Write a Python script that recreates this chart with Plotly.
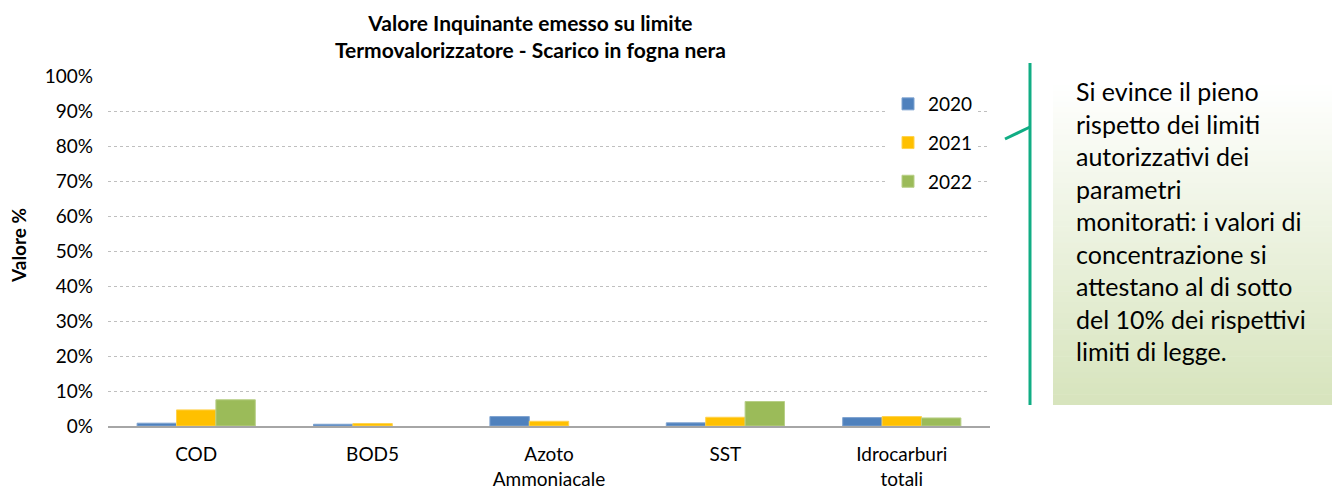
import plotly.graph_objects as go

categories = ["COD", "BOD5", "Azoto<br>Ammoniacale", "SST", "Idrocarburi<br>totali"]
years = ["2020", "2021", "2022"]
v2020 = [0.008, 0.005, 0.027, 0.009, 0.024]
v2021 = [0.046, 0.007, 0.0135, 0.025, 0.027]
v2022 = [0.075, 0.0, 0.0, 0.070, 0.023]
colors = ["#4f81bd", "#ffc000", "#9bbb59"]
outlines = ["#7ea3d0", "#ffd24d", "#b8cf87"]
title_lines = ["Valore Inquinante emesso su limite", "Termovalorizzatore - Scarico in fogna nera"]
callout_text = ["Si evince il pieno", "rispetto dei limiti", "autorizzativi dei", "parametri",
                "monitorati: i valori di", "concentrazione si", "attestano al di sotto",
                "del 10% dei rispettivi", "limiti di legge."]

FONT = "Lato, Carlito, Calibri, sans-serif"
W, H = 1338, 489
PL, PR, PT, PB = 108, 990, 76, 426  # plot area in pixels


def px(xp):
    return (xp - PL) / (PR - PL)


def py(yp):
    return (PB - yp) / (PB - PT)


fig = go.Figure()
for i, (yr, vals) in enumerate(zip(years, [v2020, v2021, v2022])):
    fig.add_trace(go.Bar(
        x=categories, y=vals, name=yr, legendgroup=yr,
        marker=dict(color=colors[i],
                    line=dict(color=outlines[i], width=[1 if v > 0 else 0 for v in vals])),
    ))

shapes = []
# callout gradient box
ytop, ybot = 80, 405
n = 60
c_top = (255, 255, 255)
c_bot = (215, 228, 189)
for k in range(n):
    t = k / (n - 1)
    r = round(c_top[0] + (c_bot[0] - c_top[0]) * t)
    g = round(c_top[1] + (c_bot[1] - c_top[1]) * t)
    b = round(c_top[2] + (c_bot[2] - c_top[2]) * t)
    ya = ytop + (ybot - ytop) * k / n
    yb = min(ybot, ytop + (ybot - ytop) * (k + 1) / n + 0.6)
    shapes.append(dict(type="rect", xref="paper", yref="paper", layer="below",
                       x0=px(1053), x1=px(1332), y0=py(yb), y1=py(ya),
                       line=dict(width=0), fillcolor=f"rgb({r},{g},{b})"))
# bracket lines
shapes.append(dict(type="line", xref="paper", yref="paper",
                   x0=px(1030), x1=px(1030), y0=py(63), y1=py(405),
                   line=dict(color="#10ad84", width=3)))
shapes.append(dict(type="line", xref="paper", yref="paper",
                   x0=px(1005), x1=px(1030), y0=py(139), y1=py(127),
                   line=dict(color="#10ad84", width=3)))

annotations = [
    dict(text="<b>" + title_lines[0] + "</b><br><b>" + title_lines[1] + "</b>",
         x=px(530), y=py(8), xref="paper", yref="paper", xanchor="center", yanchor="top",
         showarrow=False, font=dict(size=21, color="#000000", family=FONT)),
    dict(text="<br>".join(callout_text), x=px(1074), y=py(74), xref="paper", yref="paper",
         xanchor="left", yanchor="top", align="left", showarrow=False,
         font=dict(size=25, color="#000000", family=FONT)),
    dict(text="<b>Valore %</b>", x=px(18), y=py(246), xref="paper", yref="paper",
         xanchor="center", yanchor="middle", textangle=-90, showarrow=False,
         font=dict(size=19, color="#000000", family=FONT)),
]

fig.update_layout(
    width=W, height=H,
    margin=dict(l=PL, r=W - PR, t=PT, b=H - PB, autoexpand=False),
    paper_bgcolor="white", plot_bgcolor="white",
    barmode="group", bargap=0.33, bargroupgap=0,
    font=dict(family=FONT, size=19, color="#000000"),
    shapes=shapes, annotations=annotations,
    legend=dict(x=px(888), y=py(85), xanchor="left", yanchor="top", bgcolor="white",
                font=dict(size=19), traceorder="grouped", tracegroupgap=11,
                itemwidth=30),
    showlegend=True,
)
fig.update_yaxes(range=[0, 1], dtick=0.1, tickformat=".0%", showgrid=True,
                 gridcolor="#bfbfbf", gridwidth=1, griddash="dot", automargin=False,
                 zeroline=False, ticks="", ticklabelstandoff=14)
fig.update_xaxes(showline=True, linecolor="#a6a6a6", linewidth=2, ticks="", automargin=False,
                 tickfont=dict(size=19), ticklabelstandoff=10)

fig.write_html("out.html", config={"displayModeBar": False},
               post_script="document.body.style.margin='0';document.body.style.padding='0';"
                           "document.body.style.overflow='hidden';")
